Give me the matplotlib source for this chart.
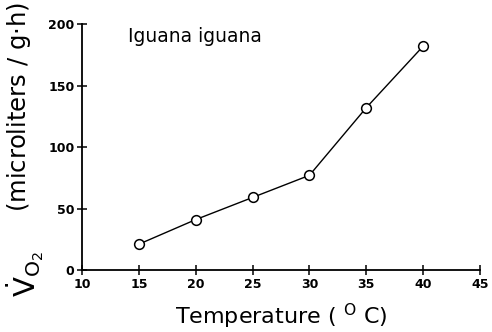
import matplotlib
matplotlib.use("Agg")
import matplotlib.pyplot as plt

temperature = [15, 20, 25, 30, 35, 40]
vo2 = [21, 41, 59, 77, 132, 182]
xticks = [10, 15, 20, 25, 30, 35, 40, 45]
yticks = [0, 50, 100, 150, 200]

plt.rcParams['font.family'] = ['DejaVu Sans']
fig = plt.figure(figsize=(4.92, 3.32), dpi=100)
ax = fig.add_axes([0.1667, 0.1867, 0.809, 0.741])
ax.plot(temperature, vo2, color='black', lw=1.0, marker='o', markersize=7,
        markerfacecolor='white', markeredgecolor='black', markeredgewidth=1.1)
ax.set_xlim(10, 45)
ax.set_ylim(0, 200)
ax.set_xticks(xticks)
ax.set_yticks(yticks)
for s in ['top', 'right']:
    ax.spines[s].set_visible(False)
for s in ['left', 'bottom']:
    ax.spines[s].set_linewidth(1.3)
ax.tick_params(direction='inout', length=7, width=1.1, labelsize=9, pad=2)
for lbl in ax.get_xticklabels() + ax.get_yticklabels():
    lbl.set_fontweight('bold')
ax.text(14.0, 190, 'Iguana iguana', fontsize=13.5, va='center', ha='left')
ax.set_xlabel('Temperature ( $^{\\rm O}$ C)', fontsize=16, labelpad=8)
fig.text(0.038, 1 - 2 / 332, '(microliters / g$\\cdot$h)',
         rotation=90, fontsize=17.5, va='top', ha='center')
fig.text(0.05, 1 - 274 / 332, '$\\dot{\\mathrm{V}}_{\\mathrm{O_2}}$',
         rotation=90, fontsize=21, va='center', ha='center')
fig.savefig('out.png', dpi=100)
